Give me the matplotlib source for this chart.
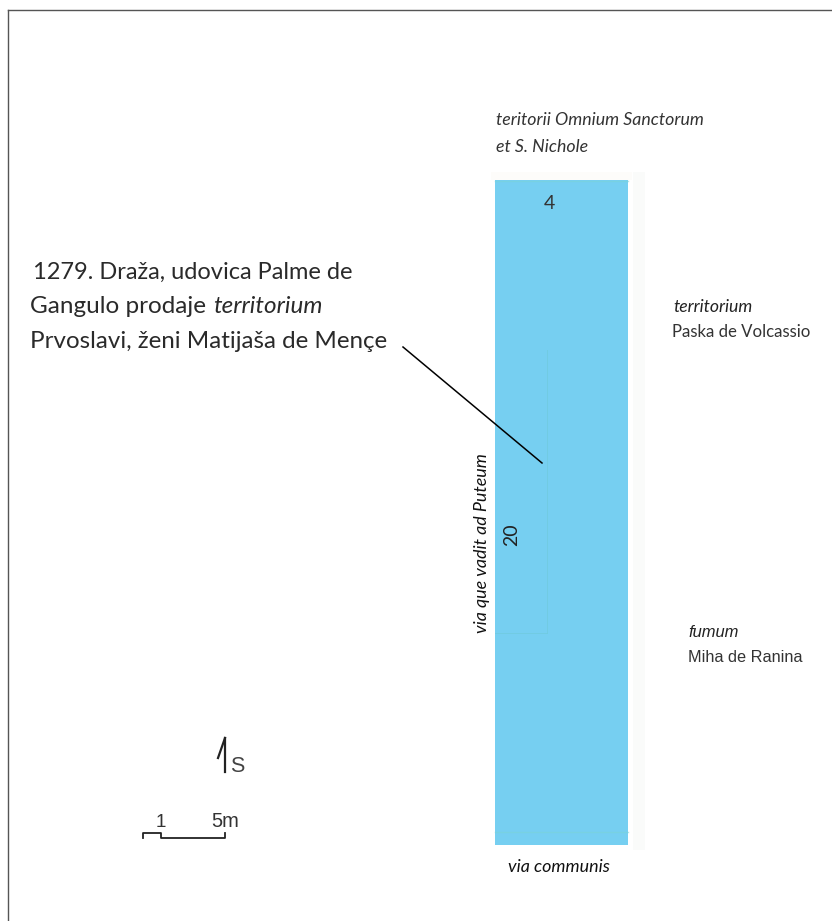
import matplotlib
matplotlib.use("Agg")
import matplotlib.pyplot as plt
from matplotlib.patches import Rectangle

W = 832
H = 921

# parcel, in picture pixels
parcel_left = 495
parcel_right = 628
parcel_top = 180
parcel_bottom = 845
parcel_colour = "#76CFF1"

note_lines = ["1279. Draža, udovica Palme de", "Gangulo prodaje", "Prvoslavi, ženi Matijaša de Mençe"]
note_x = [33, 30, 30]
note_y = [279, 313, 348]
note_size = [17, 17.5, 17.4]

leader_x = [403, 542]
leader_y = [347, 463]

north_x = [225, 225]
north_y = [772, 738]
barb_x = [218, 225]
barb_y = [758, 738]

scale_x = [143, 143, 161, 161, 225, 225]
scale_y = [838, 833, 833, 838, 838, 833]

fig = plt.figure(figsize=(W / 100, H / 100), dpi=100)
ax = fig.add_axes([0, 0, 1, 1])
ax.set_xlim(0, W)
ax.set_ylim(H, 0)
ax.axis("off")

# frame of the page
ax.plot([7.5, 7.5], [H, 10.5], color="#555555", lw=1)
ax.plot([7.5, W], [10.5, 10.5], color="#555555", lw=1)

# pale scan marks round the parcel
ax.add_patch(Rectangle((parcel_right + 5, 172), 12, 678, fc="#FAFBFA", ec="none"))
ax.add_patch(Rectangle((parcel_left - 4, 172), parcel_right - parcel_left + 8, 8, fc="#FDFCFA", ec="none"))

ax.add_patch(Rectangle((parcel_left, parcel_top), parcel_right - parcel_left, parcel_bottom - parcel_top,
                       fc=parcel_colour, ec="none"))
ax.plot([parcel_left, parcel_right], [832, 832], color="#7BD3D8", lw=1, alpha=0.6)
ax.plot([parcel_left, parcel_right], [parcel_top + 1, parcel_top + 1], color="#7BD3D8", lw=1, alpha=0.6)
ax.plot([547, 547], [350, 633], color="#70CBE0", lw=0.7, alpha=0.8)
ax.plot([parcel_left, 547], [633, 633], color="#70CBE0", lw=0.7, alpha=0.8)

ax.plot(leader_x, leader_y, color="black", lw=1.1)

cal = "Lato"
dark = "#333333"
ax.text(496, 125, "teritorii Omnium Sanctorum", family=cal, style="italic", fontsize=12.8, color=dark, va="baseline")
ax.text(496, 152, "et S. Nichole", family=cal, style="italic", fontsize=12.8, color=dark, va="baseline")
ax.text(549, 209, "4", family=cal, fontsize=14, color=dark, ha="center", va="baseline")

for i in range(3):
    ax.text(note_x[i], note_y[i], note_lines[i], family=cal, fontsize=note_size[i], color="#2a2a2a", va="baseline")
ax.text(213, note_y[1], "territorium", family=cal, style="italic", fontsize=17.5, color="#2a2a2a", va="baseline")

ax.text(673, 312, "territorium", family=cal, style="italic", fontsize=12.7, color="#222222", va="baseline")
ax.text(672, 337, "Paska de Volcassio", family=cal, fontsize=12.1, color=dark, va="baseline")
ax.text(688, 637, "fumum", family="Liberation Sans", style="italic", fontsize=11.9, color="#222222", va="baseline")
ax.text(688, 662, "Miha de Ranina", family="Liberation Sans", fontsize=11.7, color=dark, va="baseline")

ax.text(482, 543, "via que vadit ad Puteum", family=cal, style="italic", fontsize=12.9, color="#111111",
        rotation=90, ha="center", va="center")
ax.text(512, 535, "20", family=cal, fontsize=14, color="#222222", rotation=90, ha="center", va="center")
ax.text(559, 872, "via communis", family=cal, style="italic", fontsize=12.9, color="#111111", ha="center", va="baseline")

# north sign and scale
ax.plot(north_x, north_y, color="#222222", lw=1.6)
ax.plot(barb_x, barb_y, color="#222222", lw=1.6)
ax.text(237, 772, "S", family="Liberation Sans", fontsize=15.5, color="#444444", ha="center", va="baseline")
ax.plot(scale_x, scale_y, color="#222222", lw=1.3)
ax.text(161, 827, "1", family="Liberation Sans", fontsize=13.5, color=dark, ha="center", va="baseline")
ax.text(225, 827, "5m", family="Liberation Sans", fontsize=14.5, color=dark, ha="center", va="baseline")

fig.savefig("out.png", dpi=100)
